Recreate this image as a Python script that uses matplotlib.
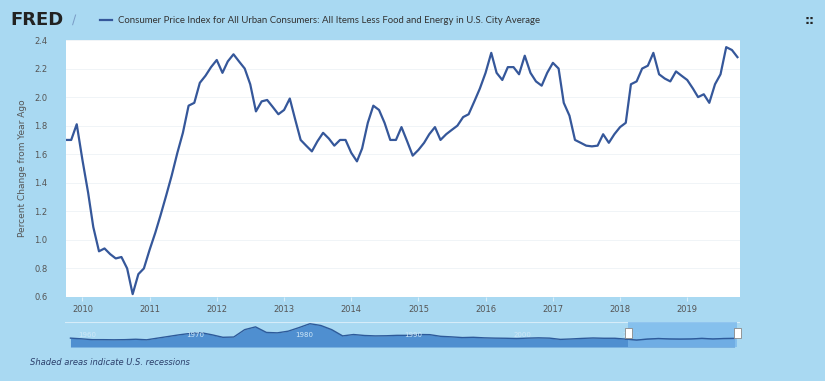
import numpy as np
import pandas as pd
import matplotlib.pyplot as plt
from matplotlib.lines import Line2D
from matplotlib.patches import Rectangle

# core CPI, percent change from year ago, monthly from Oct 2009
start_month = '2009-10-01'
cpi_core = [
    1.70, 1.70, 1.81, 1.56, 1.33, 1.09, 0.92, 0.94, 0.90, 0.87, 0.88, 0.80,
    0.62, 0.76, 0.80, 0.93, 1.05, 1.17, 1.31, 1.45, 1.61, 1.75, 1.94, 1.96,
    2.10, 2.15, 2.21, 2.26, 2.17, 2.25, 2.30, 2.25, 2.20, 2.09, 1.90, 1.97,
    1.98, 1.93, 1.88, 1.91, 1.99, 1.85, 1.70, 1.66, 1.62, 1.69, 1.75, 1.71,
    1.66, 1.70, 1.70, 1.61, 1.55, 1.64, 1.82, 1.94, 1.91, 1.82, 1.70, 1.70,
    1.79, 1.69, 1.59, 1.63, 1.68, 1.74, 1.79, 1.70, 1.74, 1.77, 1.80, 1.86,
    1.88, 1.97, 2.06, 2.17, 2.31, 2.17, 2.12, 2.21, 2.21, 2.16, 2.29, 2.17,
    2.11, 2.08, 2.17, 2.24, 2.20, 1.96, 1.87, 1.70, 1.68, 1.66, 1.655, 1.66,
    1.74, 1.68, 1.74, 1.79, 1.82, 2.09, 2.11, 2.20, 2.22, 2.31, 2.16, 2.13,
    2.11, 2.18, 2.15, 2.12, 2.06, 2.00, 2.02, 1.96, 2.09, 2.16, 2.35, 2.33,
    2.28,
]

y_ticks = [0.6, 0.8, 1.0, 1.2, 1.4, 1.6, 1.8, 2.0, 2.2, 2.4]
x_years = list(range(2010, 2020))

# long history for the navigator strip (annual, estimated)
nav_years = list(range(1958, 2020))
nav_values = [
    2.4, 1.9, 1.3, 1.3, 1.2, 1.3, 1.6, 1.2, 2.4, 3.6, 4.8, 5.8, 6.3, 4.8,
    3.0, 3.2, 8.5, 10.5, 6.5, 6.2, 7.4, 10.0, 12.8, 11.5, 8.5, 4.0, 5.0,
    4.3, 4.0, 4.1, 4.4, 4.4, 5.0, 4.9, 3.7, 3.3, 2.8, 3.0, 2.6, 2.4, 2.3,
    2.1, 2.4, 2.6, 2.4, 1.5, 1.8, 2.2, 2.5, 2.3, 2.3, 1.7, 1.0, 1.7, 2.1,
    1.8, 1.7, 1.8, 2.2, 1.8, 2.1, 2.2,
]
nav_labels = [1960, 1970, 1980, 1990, 2000, 2010]
nav_window = (2009.75, 2019.75)

title = ('Consumer Price Index for All Urban Consumers: All Items Less Food '
         'and Energy in U.S. City Average')

bg = '#a9d9f2'
line_col = '#35579a'

dates = pd.date_range(start_month, periods=len(cpi_core), freq='MS')

fig = plt.figure(figsize=(8.25, 3.81), dpi=100)
fig.patch.set_facecolor(bg)

ax = fig.add_axes([0.0794, 0.2205, 0.8176, 0.6745])
ax.set_facecolor('white')
ax.plot(dates, cpi_core, color=line_col, lw=1.6, solid_joinstyle='round')
ax.set_xlim(dates[0], dates[-1] + pd.Timedelta(days=14))
ax.set_ylim(0.6, 2.4)
ax.set_yticks(y_ticks)
ax.set_yticklabels([f'{t:.1f}' for t in y_ticks])
ax.set_xticks([pd.Timestamp(f'{y}-01-01') for y in x_years])
ax.set_xticklabels([str(y) for y in x_years])
ax.grid(axis='y', color='#eef2f6', lw=0.6)
ax.tick_params(axis='y', length=0, pad=13, labelsize=6, labelcolor='#555555')
ax.tick_params(axis='x', length=3, pad=3, labelsize=6, labelcolor='#555555',
               color='#d8eef9', direction='out')
for s in ax.spines.values():
    s.set_visible(False)
ax.set_ylabel('Percent Change from Year Ago', fontsize=6.5, color='#555555',
              labelpad=5)

# navigator strip
nav = fig.add_axes([0.0788, 0.0892, 0.8182, 0.0656])
nav.set_facecolor(bg)
nav_x = np.array(nav_years) + 0.5
nav.fill_between(nav_x, nav_values, -4, color='#4f8fd0', lw=0)
nav.plot(nav_x, nav_values, color='#2d5a9a', lw=1.0)
nav.set_xlim(1958, 2020)
nav.set_ylim(-4, 14)
sel = Rectangle((nav_window[0], -4), nav_window[1] - nav_window[0], 18,
                color='#7ab8ec', alpha=0.75, lw=0, zorder=3)
nav.add_patch(sel)
nav.plot(nav_x[-11:], nav_values[-11:], color='#2d5a9a', lw=1.0, zorder=4)
for xh in nav_window:
    nav.add_patch(Rectangle((xh - 0.3, 2.5), 0.6, 7, facecolor='white',
                            edgecolor='#888888', lw=0.6, zorder=5,
                            clip_on=False))
for yr in nav_labels:
    nav.text(yr, 4.5, str(yr), fontsize=5, color='#cfe8f8', ha='center',
             va='center', zorder=2)
nav.axhline(14, color='#d6ecf9', lw=0.8)
nav.set_xticks([])
nav.set_yticks([])
for s in nav.spines.values():
    s.set_visible(False)

# header
fig.text(0.013, 0.947, 'FRED', fontsize=13, fontweight='heavy', color='#222222',
         va='center', family='DejaVu Sans')
fig.text(0.087, 0.947, '\u2215', fontsize=9, color='#7a9cc6', va='center')
fig.add_artist(Line2D([0.121, 0.136], [0.947, 0.947], color=line_col, lw=1.6))
fig.text(0.143, 0.947, title, fontsize=6.9, color='#333333', va='center',
         family='Lato')
fig.text(0.988, 0.947, '::', fontsize=9, fontweight='bold', color='#222222',
         va='center', ha='right')

fig.text(0.036, 0.048, 'Shaded areas indicate U.S. recessions', fontsize=6,
         style='italic', color='#2b3f6b', va='center')

fig.savefig('out.png', dpi=100, facecolor=bg)
